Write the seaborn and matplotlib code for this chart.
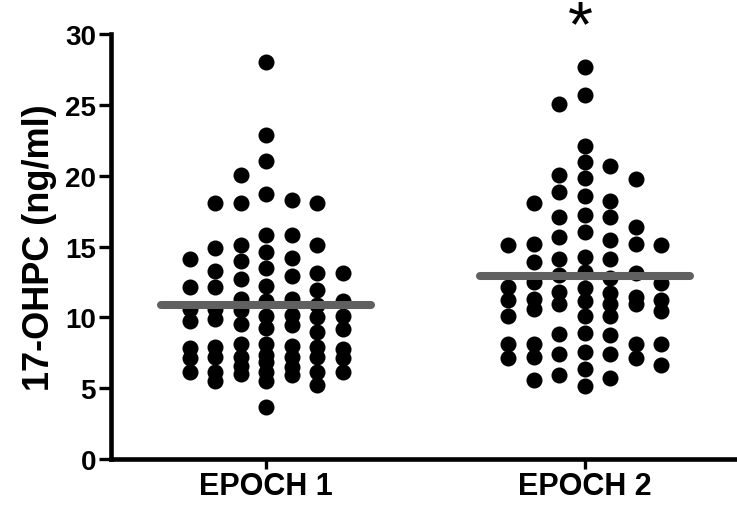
import numpy as np
import pandas as pd
import matplotlib
matplotlib.use("Agg")
import matplotlib.pyplot as plt
import seaborn as sns

categories = ["EPOCH 1", "EPOCH 2"]

epoch1 = [28.05, 22.9, 21.07, 20.05, 18.68, 18.09, 18.09, 18.09, 18.28, 15.8, 15.8,
          15.1, 14.9, 15.1, 14.6, 14.1, 13.96, 14.2, 13.25, 13.16, 13.5, 13.16, 12.74, 12.93,
          12.15, 11.91, 12.15, 12.22, 11.32, 11.13, 11.13, 11.27,
          10.85, 10.1, 10.6, 9.86, 10.14, 9.55, 10.5, 10.6, 10.03, 10.1,
          9.15, 9.48, 9.72, 8.97, 9.25,
          8.14, 7.97, 7.9, 7.73, 7.9, 7.83, 8.14,
          7.2, 7.13, 7.13, 7.2, 7.31, 7.2, 7.2,
          6.84, 6.14, 6.49, 5.9, 6.14, 5.54, 5.54, 6.14, 6.02, 5.24, 6.6, 6.14, 6.14, 3.66]

epoch2 = [27.7, 25.67, 25.05, 22.06, 20.69, 20.95, 20.05, 19.77, 19.86, 18.59, 18.87,
          18.09, 18.21, 17.1, 17.1, 17.22, 16.4, 15.69, 16.04, 15.45, 15.2, 15.1, 15.1, 15.2,
          14.27, 14.1, 13.92, 14.1, 12.97, 13.2, 13.16, 12.79, 12.5, 12.08, 12.15, 12.45,
          11.8, 10.97, 11.44, 10.6, 11.25, 11.13, 10.97, 11.25, 11.32, 10.97, 11.73,
          10.1, 10.1, 10.1, 10.43,
          8.85, 8.14, 7.43, 8.14, 7.2, 8.14, 8.78, 8.92, 8.14, 7.55, 7.13, 7.13, 7.43,
          6.32, 5.71, 5.15, 5.61, 5.94, 6.65]

medians = [10.85, 12.93]
yticks = [0, 5, 10, 15, 20, 25, 30]
ylabel = "17-OHPC (ng/ml)"
significance = ["", "*"]


def grid_swarm(values, center, spacing=0.0803, dmin=1.05, max_slot=3.5):
    """Prism-like column scatter: points on a half-step grid inside a fixed
    width; when nothing is free the least-overlapping slot is used."""
    vals = np.asarray(values, dtype=float)
    order = np.argsort(-vals, kind="stable")
    placed_s, placed_y = [], []
    slots = np.zeros(len(vals))
    flip = 1
    n_half = int(max_slot * 2)
    for i in order:
        cands = [0.0]
        for k in range(1, n_half + 1):
            cands += [flip * -k / 2, flip * k / 2]
        best, best_cost = None, None
        for c in cands:
            cost = 0.0
            for s, y in zip(placed_s, placed_y):
                if abs(c - s) < 1.0:
                    cost = max(cost, dmin - abs(vals[i] - y))
            if cost <= 0:
                best = c
                break
            if best_cost is None or cost < best_cost - 1e-9:
                best, best_cost = c, cost
        if best != 0:
            flip = -flip
        placed_s.append(best)
        placed_y.append(vals[i])
        slots[i] = best
    return center + slots * spacing


rows = []
for i, (cat, vals) in enumerate(zip(categories, [epoch1, epoch2])):
    xs = grid_swarm(vals, i)
    for x, v in zip(xs, vals):
        rows.append({"x": x, "value": v, "group": cat})
df = pd.DataFrame(rows)

sns.set_style("ticks")
plt.rcParams["font.family"] = ["Liberation Sans", "DejaVu Sans"]
plt.rcParams["font.weight"] = "bold"
plt.rcParams["text.color"] = "black"
plt.rcParams["axes.labelcolor"] = "black"

fig = plt.figure(figsize=(7.37, 5.10), dpi=100)
ax = fig.add_axes([110.5 / 737, 50 / 510, 1 - 110.5 / 737, (460 - 35) / 510])

sns.scatterplot(data=df, x="x", y="value", color="black", s=133, linewidth=0,
                ax=ax, legend=False, zorder=2)

for i, m in enumerate(medians):
    ax.plot([i - 0.33, i + 0.33], [m, m], color="#606060", lw=5.8,
            solid_capstyle="round", zorder=3)

for i, s in enumerate(significance):
    if s:
        ax.text(i - 0.012, 29.2, s, ha="center", va="baseline", fontsize=46,
                fontweight="normal", color="black", clip_on=False)

ax.set_xlim(-0.4895, 1.4785)
ax.set_ylim(0, 30)
ax.set_yticks(yticks)
ax.set_xticks(range(len(categories)))
ax.set_xticklabels(categories)
ax.set_xlabel("")
ax.set_ylabel(ylabel, fontsize=26, fontweight="bold", labelpad=6, color="black")

for sp in ["top", "right"]:
    ax.spines[sp].set_visible(False)
for sp in ["left", "bottom"]:
    ax.spines[sp].set_linewidth(3.3)
    ax.spines[sp].set_color("black")
    ax.spines[sp].set_capstyle("projecting")

ax.tick_params(axis="y", length=8.5, width=2.4, labelsize=20, pad=2, colors="black")
ax.tick_params(axis="x", length=7.5, width=2.4, labelsize=22, pad=1, colors="black")
for lab in ax.get_xticklabels() + ax.get_yticklabels():
    lab.set_fontweight("bold")

fig.savefig("out.png", dpi=100)
